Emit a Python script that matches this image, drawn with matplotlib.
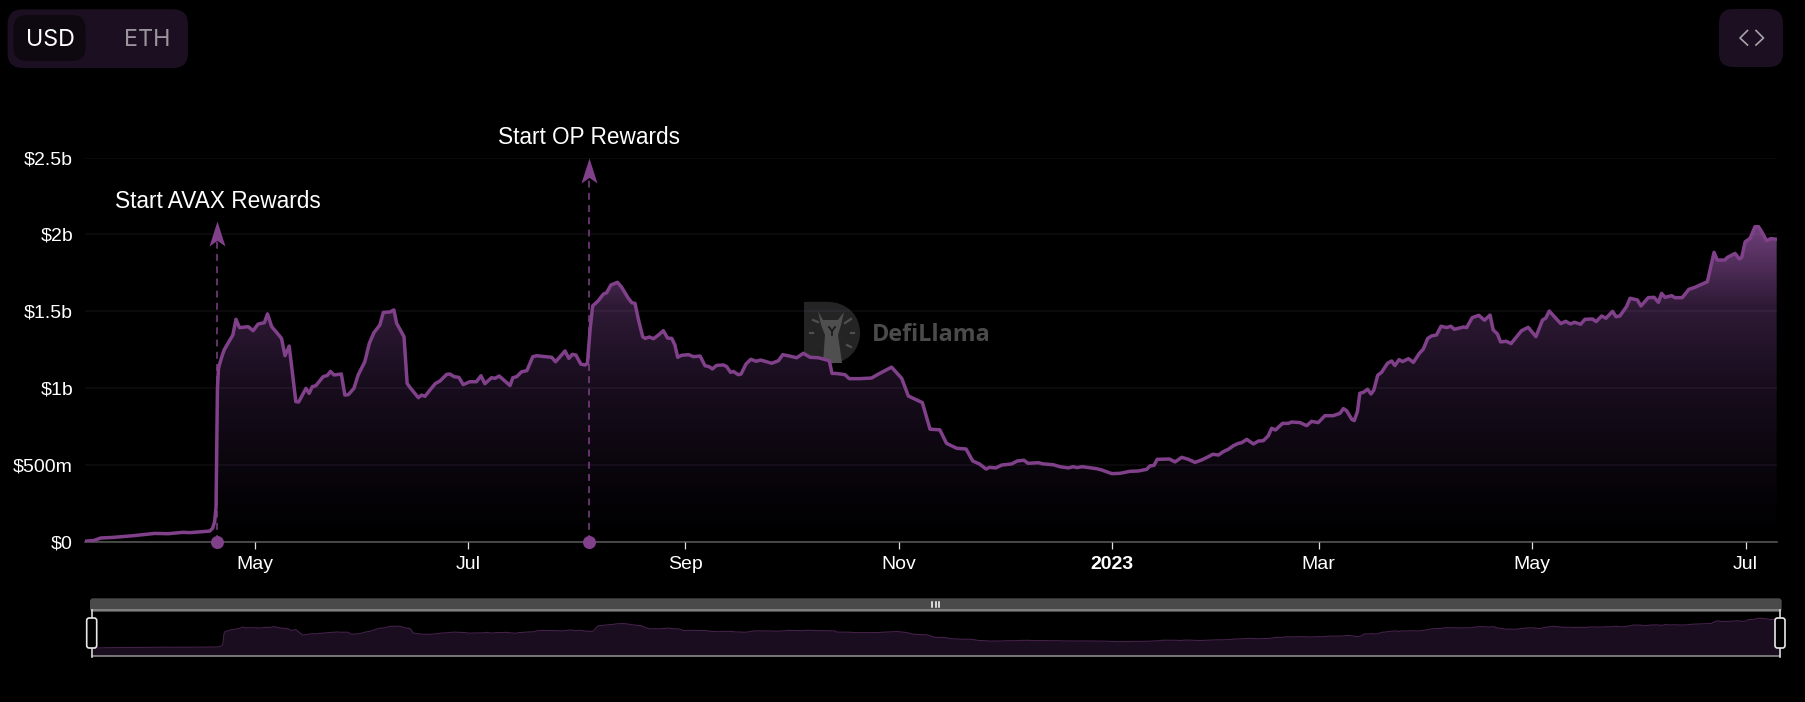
import matplotlib
matplotlib.use('Agg')
import matplotlib.pyplot as plt
import matplotlib.dates as mdates
from matplotlib.colors import LinearSegmentedColormap
from matplotlib.patches import FancyBboxPatch, Polygon
from matplotlib.path import Path
import numpy as np
from datetime import datetime

# days since 2022-05-01 and TVL in $b
days = [-48.2, -46, -44, -40.4, -34.7, -28.5, -24.7, -20.4, -18.5, -12.8, -12, -11.4, -11, -10.8, -10.6, -10.3,
        -9.4, -8.7, -7.5, -6.2, -5.3, -4.3, -1.8, -0.4, 1, 2.8, 3.7, 4.9, 6.3, 7.7, 8.7, 9.9, 11.8, 12.6,
        14.7, 15.6, 16.5, 17.5, 19.6, 20.8, 21.7, 22.7, 24.8, 25.8, 26.8, 28.4, 29.6, 31.5, 32.8, 34.1, 35.8,
        36.8, 38.7, 39.8, 40.6, 42.7, 43.6, 44.4, 46.8, 47.7, 48.7, 50.1, 51.7, 53, 54.9, 55.8, 57, 58.4,
        59.6, 61.5, 63.4, 64.7, 65.8, 67.7, 68.7, 69.9, 71.2, 73, 73.8, 74.9, 76.3, 77.8, 79.5, 80.6, 84.9,
        86, 87.3, 88.7, 89.8, 90.8, 91.8, 93.2, 94.4, 95.1, 95.9, 96.6, 98.2, 99.7, 100.6, 101.8, 103.7,
        104.9, 106.8, 107.8, 108.7, 109.7, 110.9, 111.6, 112.8, 114, 115.4, 116.8, 118, 119.2, 120.1, 120.9,
        122, 124, 125.4, 127.3, 128.7, 129.9, 130.8, 132, 134, 134.9, 136, 136.8, 138.2, 139, 140.4, 141.8,
        143.3, 144.6, 147.8, 149.7, 150.9, 152.5, 154.9, 156.8, 158.7, 161.1, 164.2, 165, 166.1, 168.7,
        169.9, 173, 176.3, 177.8, 182, 184.9, 186.8, 190.8, 193, 195.8, 197.7, 200.6, 203.3, 205.2, 207.1,
        209, 210, 211.8, 213.5, 216.3, 217.9, 219.8, 221, 223.9, 225.4, 228.2, 230.1, 232.5, 233.9, 234.9,
        236.5, 240.6, 242, 244.9, 247.3, 250.1, 252.5, 254.9, 255.8, 257, 257.9, 261.4, 263, 264.9, 266.8,
        268.7, 270.6, 272.5, 273.8, 275.4, 276.8, 278.2, 279.7, 281.1, 282, 283.5, 285.4, 286.8, 288.2,
        289.6, 290.6, 291.7, 293.7, 295.4, 296.3, 298.7, 300.6, 302, 303.9, 305.8, 308.2, 310.1, 311.1, 312,
        313.5, 314.2, 315.1, 315.8, 316.8, 318, 319, 319.8, 320.9, 322, 323.7, 324.9, 325.8, 327, 328, 329.7,
        331.1, 332.8, 333.9, 335.2, 336.3, 337.7, 339, 340.6, 341.8, 342.8, 345.4, 346.3, 347.9, 349.8,
        351.4, 353, 353.9, 355.1, 356, 357.7, 359, 362, 363.9, 366.1, 368, 368.9, 369.9, 373.2, 374.6, 376,
        377.1, 378.9, 380.1, 382.3, 383.3, 384.9, 386.1, 388, 389, 390.1, 392, 393, 395.1, 396.1, 398.2,
        399.9, 401.1, 402, 403, 404.9, 405.8, 407.9, 409.8, 411.5, 415.1, 417, 417.9, 420.1, 420.8, 423,
        424.2, 424.9, 425.9, 427.3, 428.7, 429.7, 430.6, 432, 433.2, 434.9]
tvl = [.004, .007, .024, .028, .039, .054, .052, .061, .059, .069, .087, .13, .228, .62, 1.0, 1.13,
       1.20, 1.247, 1.295, 1.345, 1.447, 1.393, 1.399, 1.373, 1.416, 1.425, 1.482, 1.399, 1.362, 1.323, 1.21, 1.273, .911, .909,
       .998, .965, 1.009, 1.015, 1.074, 1.082, 1.108, 1.085, 1.091, .954, .957, .998, 1.085, 1.171, 1.291, 1.36, 1.41,
       1.492, 1.495, 1.508, 1.421, 1.334, 1.03, 1.004, .937, .954, .946, .987, 1.03, 1.046, 1.089, 1.091, 1.074, 1.069,
       1.022, 1.041, 1.041, 1.08, 1.028, 1.067, 1.063, 1.078, 1.052, 1.016, 1.067, 1.074, 1.106, 1.113, 1.204, 1.21, 1.2,
       1.171, 1.204, 1.241, 1.193, 1.219, 1.215, 1.156, 1.15, 1.16, 1.388, 1.534, 1.568, 1.612, 1.62, 1.67, 1.688,
       1.655, 1.584, 1.555, 1.551, 1.443, 1.334, 1.323, 1.332, 1.321, 1.345, 1.373, 1.325, 1.323, 1.28, 1.2,
       1.213, 1.217, 1.204, 1.208, 1.145, 1.139, 1.124, 1.147, 1.15, 1.139, 1.102, 1.108, 1.087, 1.091, 1.156, 1.187,
       1.174, 1.182, 1.161, 1.178, 1.217, 1.21, 1.197, 1.226, 1.2, 1.197, 1.178, 1.095, 1.095, 1.087,
       1.061, 1.061, 1.065, 1.085, 1.136, 1.063, .948, .905, .732, .728, .64, .608, .603, .525, .506,
       .473, .484, .48, .499, .506, .525, .53, .51, .514, .506, .501, .488, .48, .488, .482,
       .488, .475, .467, .443, .445, .458, .46, .471, .493, .497, .536, .538, .519, .549, .536,
       .516, .532, .553, .569, .564, .586, .601, .625, .64, .644, .666, .636, .655, .657,
       .688, .738, .727, .77, .77, .779, .775, .755, .783, .775, .82, .82, .835, .866, .853,
       .796, .788, .846, .966, .972, .992, .961, .987, 1.083, 1.102, 1.161, 1.176, 1.146, 1.185, 1.172, 1.191,
       1.167, 1.226, 1.252, 1.323, 1.339, 1.345, 1.402, 1.393, 1.402, 1.382, 1.397, 1.393, 1.458, 1.473,
       1.441, 1.475, 1.378, 1.352, 1.3, 1.304, 1.289, 1.373, 1.395, 1.334, 1.443, 1.454, 1.501, 1.419, 1.434, 1.417,
       1.428, 1.415, 1.447, 1.449, 1.432, 1.469, 1.454, 1.499, 1.464, 1.469, 1.53, 1.584, 1.573, 1.534, 1.588,
       1.59, 1.557, 1.616, 1.59, 1.601, 1.588, 1.588, 1.642, 1.655, 1.692, 1.883, 1.833, 1.833, 1.85, 1.876,
       1.84, 1.85, 1.952, 1.974, 2.05, 2.05, 2.018, 1.959, 1.972, 1.968]

y_ticks = [0, 0.5, 1, 1.5, 2, 2.5]
y_labels = ['$0', '$500m', '$1b', '$1.5b', '$2b', '$2.5b']
tick_dates = ['2022-05-01', '2022-07-01', '2022-09-01', '2022-11-01', '2023-01-01', '2023-03-01', '2023-05-01', '2023-07-01']
tick_labels = ['May', 'Jul', 'Sep', 'Nov', '2023', 'Mar', 'May', 'Jul']

event_names = ['Start AVAX Rewards', 'Start OP Rewards']
event_days = [-10.6, 95.5]
event_tops = [2.087, 2.5]

W, H = 1806, 702
PURPLE = '#80408a'
SANS = 'Liberation Sans'
base = mdates.date2num(datetime(2022, 5, 1))
x = base + np.array(days)
y = np.array(tvl)
x_range = (base - 48.5, base + 434.9)

def px_axes(left, top, right, bottom, **kw):
    return fig.add_axes([left / W, 1 - bottom / H, (right - left) / W, (bottom - top) / H], **kw)

fig = plt.figure(figsize=(W / 100, H / 100), dpi=100, facecolor='black')

# page coordinates, one layer under the chart and one over it
bg = px_axes(0, 0, W, H, zorder=0)
top = px_axes(0, 0, W, H, zorder=3)
for a in (bg, top):
    a.set_xlim(0, W)
    a.set_ylim(H, 0)
    a.axis('off')

def button(a, left, t, right, b, color, r):
    a.add_patch(FancyBboxPatch((left + r, t + r), right - left - 2 * r, b - t - 2 * r,
                               boxstyle='round,pad=%f,rounding_size=%f' % (r, r), fc=color, ec='none'))

button(bg, 7.6, 9.3, 188, 68, '#1d0f22', 15)
button(bg, 13.4, 15, 85.7, 61, '#0e0911', 14)
bg.text(50, 40.3, 'USD', color='white', family='Inter', fontsize=16.8, ha='center', va='center')
bg.text(147, 40.3, 'ETH', color='#9a969b', family='Inter', fontsize=16.8, ha='center', va='center')

button(bg, 1719, 9, 1783, 67, '#1d0f22', 14)
bg.plot([1747.5, 1740, 1747.5], [30.5, 38, 45], color='#a8a5a9', lw=1.2)
bg.plot([1756, 1763.5, 1756], [30.5, 38, 45], color='#a8a5a9', lw=1.2)

# watermark
logo = Path([(804, 306), (804, 364), (826, 364), (848, 364), (860, 350), (860, 333), (860, 316), (848, 301.7),
             (826, 301.7), (808, 301.7), (804, 302), (804, 306)],
            [Path.MOVETO, Path.LINETO, Path.LINETO, Path.CURVE4, Path.CURVE4, Path.CURVE4, Path.CURVE4, Path.CURVE4,
             Path.CURVE4, Path.LINETO, Path.LINETO, Path.CLOSEPOLY])
bg.add_patch(matplotlib.patches.PathPatch(logo, fc='#242424', ec='none'))
bg.add_patch(Polygon([(818, 311), (823, 320), (838, 320), (844, 312), (841, 325), (838, 335), (842, 363), (823, 363), (825, 335), (821, 325)],
                     fc='#4f4f4f', ec='none'))
bg.plot([829, 832, 835], [327, 331, 327], color='#1c1c1c', lw=1.3)
bg.plot([832, 832], [331, 335], color='#1c1c1c', lw=1.3)
for seg in [((813, 320), (818, 322)), ((845, 323), (851, 319)), ((810, 333), (813, 333)), ((851, 333), (854, 333)), ((847, 345), (851, 347))]:
    bg.plot([seg[0][0], seg[1][0]], [seg[0][1], seg[1][1]], color='#4f4f4f', lw=1.6)
bg.text(931.5, 335, 'DefiLlama', color='#4b4b4b', family='Open Sans', weight='bold', fontsize=16.8, ha='center', va='center')

# main chart
ax = px_axes(84.8, 157.5, 1776.7, 541.7, zorder=1)
ax.patch.set_alpha(0)
shades = ['#000000', '#040205', '#0b060e', '#180d1d', '#2f1a36', '#6f3f7a']
cmap = LinearSegmentedColormap.from_list('tvl', list(zip([0, .12, .25, .5, .75, 1], shades)))
poly = ax.fill_between(x, 0, y, color='none')
grad = ax.imshow(np.linspace(1, 0, 256).reshape(-1, 1), cmap=cmap, aspect='auto', zorder=1,
                 extent=[x_range[0], x_range[1], 0, y.max()])
grad.set_clip_path(poly.get_paths()[0], transform=ax.transData)
ax.plot(x, y, color=PURPLE, lw=2.5, zorder=4, solid_joinstyle='round')
ax.set_xlim(*x_range)
ax.set_ylim(0, 2.5)
for s in ax.spines.values():
    s.set_visible(False)
ax.spines['bottom'].set_visible(True)
ax.spines['bottom'].set_color('#5a5a5a')
ax.spines['bottom'].set_linewidth(1.1)
# translucent so the lines lift slightly over the fill
ax.grid(axis='y', color='#b080c0', alpha=0.09, lw=1.1, zorder=2)
ax.set_axisbelow(False)
ax.set_yticks(y_ticks, y_labels, family=SANS, fontsize=14, color='white')
ax.tick_params(axis='y', length=0, pad=8.5)
ax.set_xticks(mdates.date2num([datetime.strptime(d, '%Y-%m-%d') for d in tick_dates]), tick_labels,
              family=SANS, fontsize=14, color='white')
ax.tick_params(axis='x', length=5, width=0.9, color='#e0e0e0', pad=5)
for lab in ax.get_xticklabels():
    if lab.get_text() == '2023':
        lab.set_fontweight('bold')

arrow = Path([(0, 0), (.64, -2), (0, -1.55), (-.64, -2), (0, 0)],
             [Path.MOVETO, Path.LINETO, Path.LINETO, Path.LINETO, Path.CLOSEPOLY])
for name, d, t in zip(event_names, event_days, event_tops):
    ax.plot([base + d, base + d], [0, t - 0.1], color=PURPLE, lw=1.1, ls=(0, (4.5, 3.5)), zorder=5, clip_on=False)
    ax.plot([base + d], [t], marker=arrow, ms=36, color=PURPLE, mew=0, zorder=6, clip_on=False)
    ax.plot([base + d], [0], marker='o', ms=9.4, color=PURPLE, mew=0, zorder=6, clip_on=False)
    ax.annotate(name, (base + d, t), xytext=(0, 14.3), textcoords='offset points', ha='center', va='center',
                family=SANS, fontsize=16.3, color='white', annotation_clip=False)

# zoom slider overview
mini = px_axes(91.7, 610, 1780, 655.7, zorder=1)
mini.patch.set_alpha(0)
mini.fill_between(x, -0.53, y, color='#1a0d1f', lw=0)
mini.plot(x, y, color='#44224a', lw=0.8)
mini.set_xlim(*x_range)
mini.set_ylim(-0.53, 2.62)
mini.set_xticks([])
mini.set_yticks([])
for s in mini.spines.values():
    s.set_visible(False)

button(bg, 90, 598.3, 1781.7, 612, '#4a4a4a', 3)
top.plot([91.7, 1780], [610, 610], color='#8a8a8a', lw=1.2)
top.plot([91.7, 1780], [655.7, 655.7], color='#8a8a8a', lw=1.2)
for bx in (932.5, 936, 939.5):
    top.plot([bx, bx], [601.5, 607], color='white', lw=1.1)
for hx in (91.7, 1780):
    top.plot([hx, hx], [610, 657], color='#d8d8d8', lw=1.2)
    top.add_patch(FancyBboxPatch((hx - 2.5, 620.5), 5, 25, boxstyle='round,pad=2.5,rounding_size=2.5', fc='black', ec='#e8e8e8', lw=1.2, zorder=5))

plt.savefig('out.png', dpi=100, facecolor='black')
